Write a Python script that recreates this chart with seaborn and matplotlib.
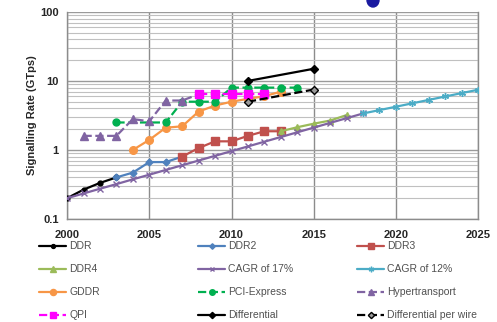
import matplotlib
matplotlib.use("Agg")
import matplotlib.pyplot as plt
from matplotlib.ticker import FixedLocator, FixedFormatter, LogLocator, NullFormatter
from matplotlib.patches import Ellipse
import seaborn as sns
import pandas as pd

# ---- data ----
ddr_years = [2000, 2001, 2002, 2003]
ddr_vals = [0.2, 0.266, 0.333, 0.4]
ddr2_years = [2003, 2004, 2005, 2006, 2007]
ddr2_vals = [0.4, 0.47, 0.667, 0.667, 0.8]
ddr3_years = [2007, 2008, 2009, 2010, 2011, 2012, 2013]
ddr3_vals = [0.8, 1.066, 1.333, 1.333, 1.6, 1.866, 1.866]
ddr4_years = [2013, 2014, 2015, 2016, 2017]
ddr4_vals = [1.866, 2.133, 2.4, 2.667, 3.2]
cagr17_years = list(range(2000, 2019))
cagr17_vals = [0.2, 0.234, 0.274, 0.32, 0.375, 0.438, 0.513, 0.6, 0.702, 0.822,
               0.961, 1.125, 1.316, 1.54, 1.801, 2.107, 2.466, 2.885, 3.375]
cagr12_years = list(range(2018, 2026))
cagr12_vals = [3.375, 3.78, 4.23, 4.74, 5.31, 5.95, 6.66, 7.46]
gddr_years = [2004, 2005, 2006, 2007, 2008, 2009, 2010, 2011, 2012, 2013]
gddr_vals = [1.0, 1.4, 2.1, 2.2, 3.6, 4.4, 5.0, 5.5, 6.0, 7.0]
pcie_years = [2003, 2006, 2007, 2008, 2009, 2010, 2011, 2012, 2013, 2014]
pcie_vals = [2.5, 2.5, 5.0, 5.0, 5.0, 8.0, 8.0, 8.0, 8.0, 8.0]
ht_years = [2001, 2002, 2003, 2004, 2005, 2006, 2007, 2008]
ht_vals = [1.6, 1.6, 1.6, 2.8, 2.6, 5.2, 5.2, 6.4]
qpi_years = [2008, 2009, 2010, 2011, 2012]
qpi_vals = [6.4, 6.4, 6.4, 6.4, 6.4]
diff_years = [2011, 2015]
diff_vals = [10.0, 15.0]
dpw_years = [2011, 2015]
dpw_vals = [5.0, 7.5]

x_ticks = [2000, 2005, 2010, 2015, 2020, 2025]
y_ticks = [0.1, 1, 10, 100]
y_tick_labels = ["0.1", "1", "10", "100"]

series = [
    ("DDR", ddr_years, ddr_vals, "#000000", "o", "-", 3.5, "#000000"),
    ("DDR2", ddr2_years, ddr2_vals, "#4F81BD", "D", "-", 3.5, "#4F81BD"),
    ("DDR3", ddr3_years, ddr3_vals, "#C0504D", "s", "-", 5.5, "#C0504D"),
    ("DDR4", ddr4_years, ddr4_vals, "#9BBB59", "^", "-", 5, "#9BBB59"),
    ("CAGR of 17%", cagr17_years, cagr17_vals, "#8064A2", "x", "-", 4, "#8064A2"),
    ("CAGR of 12%", cagr12_years, cagr12_vals, "#4BACC6", (6, 2, 0), "-", 5, "#4BACC6"),
    ("GDDR", gddr_years, gddr_vals, "#F79646", "o", "-", 5.5, "#F79646"),
    ("PCI-Express", pcie_years, pcie_vals, "#00B050", "o", "--", 5, "#00B050"),
    ("Hypertransport", ht_years, ht_vals, "#8064A2", "^", "--", 6, "#8064A2"),
    ("QPI", qpi_years, qpi_vals, "#FF00FF", "s", "--", 5.5, "#FF00FF"),
    ("Differential", diff_years, diff_vals, "#000000", "D", "-", 4, "#000000"),
    ("Differential per wire", dpw_years, dpw_vals, "#000000", "D", "--", 4, "#9a9a9a"),
]

sns.set_style("white")
plt.rcParams["font.family"] = ["Liberation Sans", "DejaVu Sans"]

fig = plt.figure(figsize=(4.97, 3.22), dpi=100)
ax = fig.add_axes([0.135, 0.32, 0.827, 0.643])

handles = {}
for name, xs, ys, col, mk, ls, ms, mfc in series:
    df = pd.DataFrame({"year": xs, "rate": ys})
    sns.lineplot(data=df, x="year", y="rate", ax=ax, color=col, marker=mk,
                 linestyle=ls, linewidth=1.6, markersize=ms, markerfacecolor=mfc,
                 markeredgecolor=col, markeredgewidth=1.0, zorder=3,
                 label=name, legend=False)
    handles[name] = ax.get_lines()[-1]

ax.set_yscale("log")
ax.set_xlim(2000, 2025)
ax.set_ylim(0.1, 100)
ax.xaxis.set_major_locator(FixedLocator(x_ticks))
ax.set_xticklabels([str(t) for t in x_ticks], fontweight="bold", fontsize=8)
ax.yaxis.set_major_locator(FixedLocator(y_ticks))
ax.yaxis.set_major_formatter(FixedFormatter(y_tick_labels))
ax.yaxis.set_minor_locator(LogLocator(base=10, subs=range(2, 10)))
ax.yaxis.set_minor_formatter(NullFormatter())
for lab in ax.get_yticklabels():
    lab.set_fontweight("bold")
    lab.set_fontsize(8)
ax.tick_params(axis="y", which="both", length=0, pad=6)
ax.tick_params(axis="x", which="both", length=0, pad=8)

ax.grid(True, axis="x", which="major", color="#8c8c8c", linewidth=1.0)
ax.grid(True, axis="y", which="major", color="#9a9a9a", linewidth=1.0)
ax.grid(True, axis="y", which="minor", color="#c0c0c0", linewidth=0.8)
ax.set_axisbelow(True)
for sp in ax.spines.values():
    sp.set_color("#8c8c8c")
    sp.set_linewidth(1.0)
ax.spines["top"].set_visible(False)

ax.set_xlabel("")
ax.set_ylabel("Signalling Rate (GTps)", fontweight="bold", fontsize=8, labelpad=2)

cols = [["DDR", "DDR4", "GDDR", "QPI"],
        ["DDR2", "CAGR of 17%", "PCI-Express", "Differential"],
        ["DDR3", "CAGR of 12%", "Hypertransport", "Differential per wire"]]
col_x = [34 / 497, 193 / 497, 352 / 497]
for cx, names in zip(col_x, cols):
    leg = fig.legend([handles[n] for n in names], names, loc="upper left",
                     bbox_to_anchor=(cx, 1 - 236 / 322), frameon=False,
                     fontsize=7.5, handlelength=2.6, handletextpad=0.3,
                     labelspacing=1.25, borderpad=0, markerscale=0.8)
    for t in leg.get_texts():
        t.set_color("#505050")

fig.patches.append(Ellipse((373 / 497, 1.0), 12 / 497, 14 / 322,
                           transform=fig.transFigure, color="#1a1aa0"))

fig.savefig("out.png", dpi=100)
